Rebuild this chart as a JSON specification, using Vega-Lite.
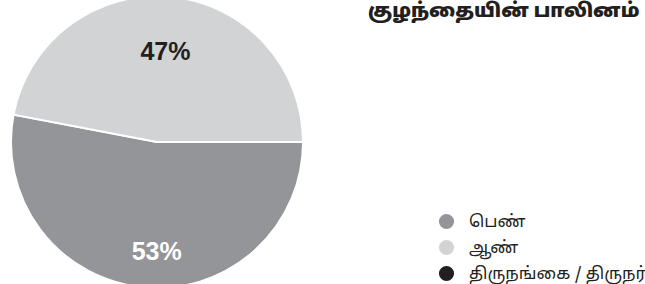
{
  "$schema": "https://vega.github.io/schema/vega-lite/v6.json",
  "width": 314,
  "height": 284,
  "autosize": {"type": "none"},
  "padding": {"left": 0, "top": 0, "right": 331, "bottom": 0},
  "background": "white",
  "title": {
    "text": "குழந்தையின் பாலினம்",
    "orient": "top",
    "anchor": "start",
    "dx": 368,
    "dy": 33,
    "fontSize": 19.4,
    "fontWeight": 900,
    "font": "Noto Sans Tamil, Noto Sans, sans-serif",
    "color": "#231f20"
  },
  "data": {
    "values": [
      {"gender": "பெண்", "value": 53, "label": "53%", "order": 1},
      {"gender": "ஆண்", "value": 47, "label": "47%", "order": 2}
    ]
  },
  "encoding": {
    "theta": {"field": "value", "type": "quantitative", "stack": true, "scale": {"range": [1.5708, 7.854]}},
    "order": {"field": "order", "type": "ordinal"}
  },
  "layer": [
    {
      "mark": {"type": "arc", "outerRadius": 146, "stroke": "white", "strokeWidth": 2},
      "encoding": {
        "color": {
          "field": "gender",
          "type": "nominal",
          "scale": {"domain": ["பெண்", "ஆண்", "திருநங்கை / திருநர்"], "range": ["#939598", "#d1d3d4", "#231f20"]},
          "sort": null,
          "legend": {
            "orient": "none",
            "legendX": 438,
            "legendY": 213,
            "title": null,
            "symbolType": "circle",
            "symbolSize": 230,
            "symbolStrokeWidth": 0,
            "labelFontSize": 17,
            "labelFont": "Noto Sans Tamil, Noto Sans, sans-serif",
            "labelColor": "#231f20",
            "labelOffset": 14,
            "rowPadding": 8,
            "labelLimit": 300
          }
        }
      }
    },
    {
      "mark": {"type": "text", "radius": 90, "fontSize": 25, "fontWeight": "bold", "font": "Liberation Sans", "color": "#231f20"},
      "encoding": {"text": {"condition": {"test": "datum.gender === 'ஆண்'", "field": "label"}, "value": ""}}
    },
    {
      "mark": {"type": "text", "radius": 110, "dx": 10, "fontSize": 25, "fontWeight": "bold", "font": "Liberation Sans", "color": "#ffffff"},
      "encoding": {"text": {"condition": {"test": "datum.gender === 'பெண்'", "field": "label"}, "value": ""}}
    }
  ]
}
